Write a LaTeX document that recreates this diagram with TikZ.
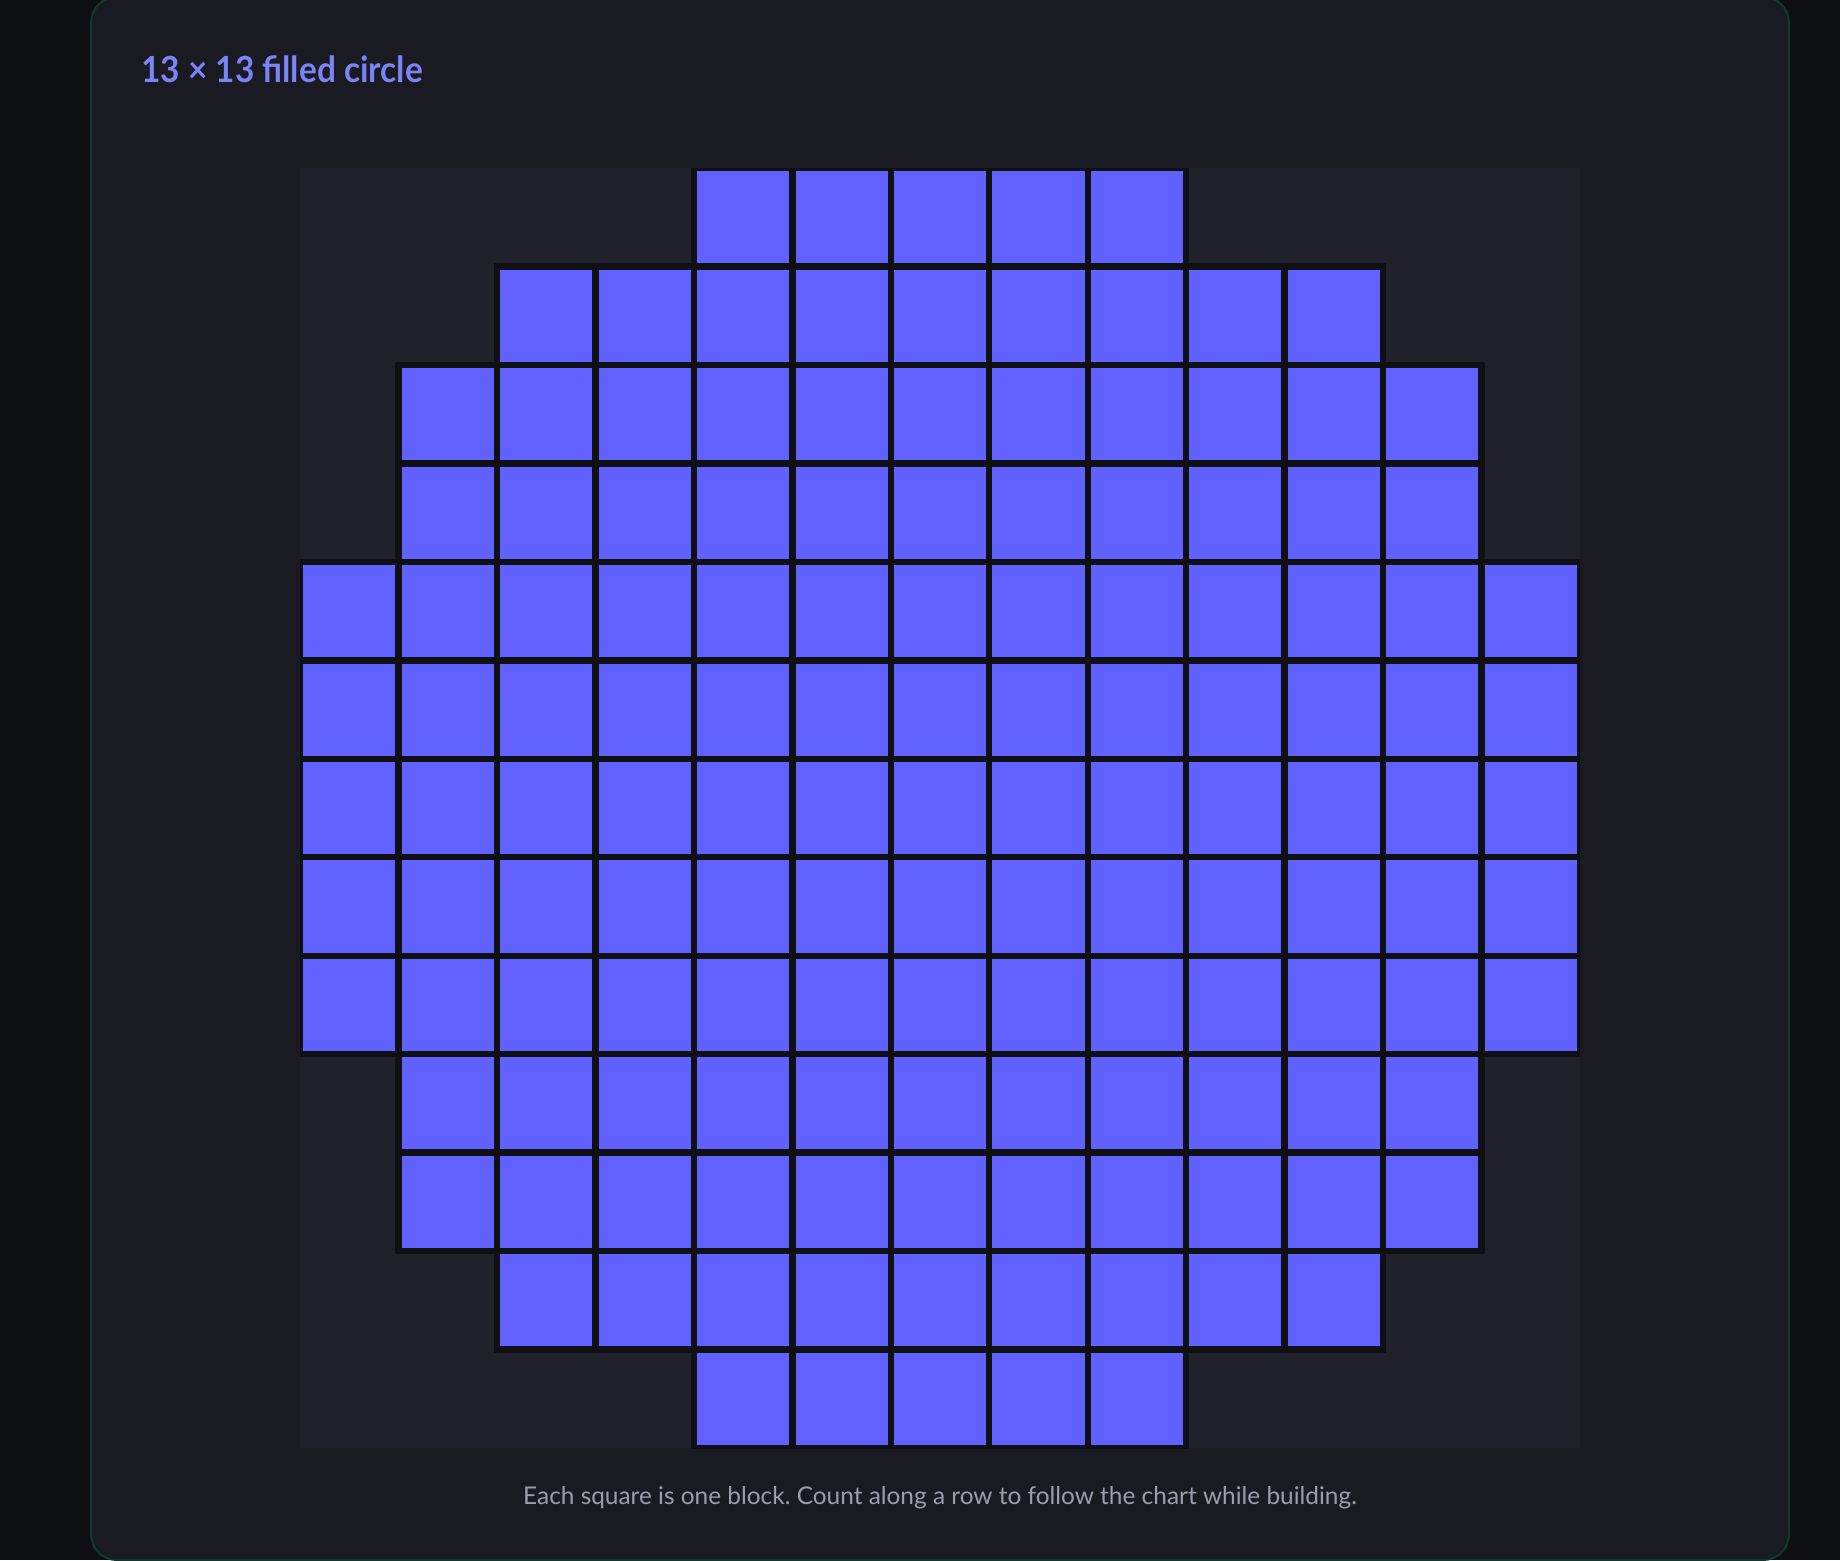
\documentclass[tikz,border=0pt]{standalone}
\usepackage{fontspec}
\setmainfont{Lato}
\frenchspacing
\definecolor{outerbg}{HTML}{0E0F13}
\definecolor{cardbg}{HTML}{191A22}
\definecolor{cardline}{HTML}{0E3B2C}
\definecolor{gridbg}{HTML}{20212A}
\definecolor{celledge}{HTML}{0F1014}
\definecolor{cellfill}{HTML}{6161FF}
\definecolor{titlecol}{HTML}{7B84F2}
\definecolor{captioncol}{HTML}{9B9DAB}
\tikzset{
  cardbox/.style={draw=cardline, fill=cardbg, line width=1pt, rounded corners=13pt},
  edgebox/.style={fill=celledge},
  blockbox/.style={fill=cellfill},
  titletext/.style={anchor=base west, text=titlecol, inner sep=0pt, font=\fontsize{18}{20}\selectfont\bfseries},
  captiontext/.style={anchor=base, text=captioncol, inner sep=0pt, font=\fontsize{12.2}{14}\selectfont}
}
\begin{document}
\begin{tikzpicture}[x=0.5pt,y=-0.5pt]
\useasboundingbox (0,0) rectangle (1840,1560);
\fill[outerbg] (0,0) rectangle (1840,1560);
\begin{scope}
  \clip (0,0) rectangle (1840,1560);
  \draw[cardbox] (91,-3) rectangle (1789,1560);
\end{scope}
\fill[gridbg] (300,168) rectangle (1580,1448);
\begin{scope}
  \clip (300,168) rectangle (1580,1448);
  \foreach \r/\a/\b in {0/4/8,1/2/10,2/1/11,3/1/11,4/0/12,5/0/12,6/0/12,7/0/12,8/0/12,9/1/11,10/1/11,11/2/10,12/4/8}{
    \foreach \c in {\a,...,\b}{
      \pgfmathsetmacro\xx{300+\c*98.4615}
      \pgfmathsetmacro\yy{168+\r*98.4615}
      \fill[edgebox] (\xx-3,\yy-3) rectangle ++(104.46,104.46);
    }
  }
  \foreach \r/\a/\b in {0/4/8,1/2/10,2/1/11,3/1/11,4/0/12,5/0/12,6/0/12,7/0/12,8/0/12,9/1/11,10/1/11,11/2/10,12/4/8}{
    \foreach \c in {\a,...,\b}{
      \pgfmathsetmacro\xx{300+\c*98.4615}
      \pgfmathsetmacro\yy{168+\r*98.4615}
      \fill[blockbox] (\xx+3.2,\yy+3.2) rectangle ++(92.06,92.06);
    }
  }
\end{scope}
\node[titletext] (title) at (141,82) {\scalebox{0.927}[1]{13 × 13 filled circle}};
\node[captiontext] (caption) at (940,1504) {Each square is one block. Count along a row to follow the chart while building.};
\end{tikzpicture}
\end{document}
